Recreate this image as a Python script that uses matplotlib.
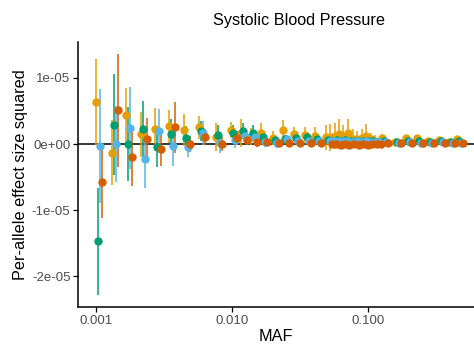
import matplotlib
matplotlib.use("Agg")
import matplotlib.pyplot as plt
import numpy as np

plt.rcParams["font.family"] = ["Liberation Sans", "DejaVu Sans"]

# MAF bin centres
maf = [0.00105, 0.00137, 0.00175, 0.00224, 0.00286, 0.00362, 0.00471, 0.00602,
       0.00802, 0.01043, 0.01225, 0.01452, 0.01734, 0.02107, 0.02495, 0.03006,
       0.03622, 0.04325, 0.05212,
       0.0553, 0.0602, 0.0644, 0.0689, 0.0750, 0.0816, 0.0874, 0.0950, 0.1017,
       0.1107, 0.1185,
       0.1334, 0.1663, 0.2002, 0.2411, 0.2904, 0.3499, 0.4148, 0.4748]

# estimates and standard errors, in units of 1e-05
orange_est = [0.63, -0.13, 0.44, 0.15, 0.22, 0.27, 0.21, 0.25, 0.11, 0.21, 0.16, 0.11, 0.16,
              0.09, 0.21, 0.15, 0.14, 0.12, 0.10,
              0.10, 0.12, 0.15, 0.12, 0.16, 0.08, 0.07, 0.09, 0.12, 0.07, 0.05,
              0.09, 0.03, 0.09, 0.09, 0.04, 0.06, 0.03, 0.07]
orange_se = [0.65, 0.49, 0.40, 0.34, 0.32, 0.25, 0.24, 0.17, 0.21, 0.12, 0.21, 0.13, 0.15,
             0.10, 0.15, 0.11, 0.11, 0.13, 0.19,
             0.20, 0.20, 0.22, 0.16, 0.22, 0.14, 0.13, 0.14, 0.18, 0.10, 0.08,
             0.06, 0.04, 0.05, 0.05, 0.04, 0.04, 0.04, 0.04]
green_est = [-1.47, 0.29, 0.00, 0.22, -0.05, 0.15, 0.09, 0.19, 0.14, 0.16, 0.19, 0.16, 0.11,
             0.06, 0.07, 0.09, 0.10, 0.07, 0.06,
             0.05, 0.06, 0.05, 0.06, 0.05, 0.04, 0.05, 0.04, 0.05, 0.04, 0.03,
             0.05, 0.03, 0.05, 0.04, 0.03, 0.04, 0.03, 0.04]
green_se = [0.81, 0.76, 0.56, 0.43, 0.30, 0.22, 0.18, 0.15, 0.14, 0.13, 0.12, 0.12, 0.10,
            0.08, 0.07, 0.07, 0.06, 0.06, 0.06,
            0.05, 0.05, 0.05, 0.04, 0.04, 0.04, 0.04, 0.04, 0.03, 0.03, 0.03,
            0.03, 0.03, 0.03, 0.03, 0.03, 0.03, 0.03, 0.03]
blue_est = [-0.03, 0.00, 0.24, -0.22, 0.20, -0.03, -0.05, 0.17, 0.01, 0.06, 0.12, 0.11, 0.03,
            0.01, 0.07, 0.05, 0.05, 0.05, 0.04,
            0.04, 0.05, 0.04, 0.04, 0.03, 0.04, 0.03, 0.04, 0.03, 0.03, 0.03,
            0.03, 0.02, 0.03, 0.02, 0.02, 0.03, 0.02, 0.02]
blue_se = [0.86, 0.57, 0.62, 0.44, 0.33, 0.30, 0.15, 0.18, 0.14, 0.12, 0.10, 0.09, 0.08,
           0.07, 0.06, 0.06, 0.05, 0.05, 0.05,
           0.04, 0.04, 0.04, 0.04, 0.04, 0.03, 0.03, 0.03, 0.03, 0.03, 0.03,
           0.03, 0.02, 0.02, 0.02, 0.02, 0.02, 0.02, 0.02]
red_est = [-0.57, 0.51, -0.19, 0.07, -0.08, 0.25, 0.00, 0.11, 0.00, 0.09, 0.06, 0.03, 0.03,
           0.02, 0.01, 0.01, 0.01, 0.01, 0.00,
           0.00, -0.01, 0.00, -0.01, 0.00, -0.01, 0.00, -0.01, 0.00, 0.00, 0.00,
           0.02, 0.02, 0.01, 0.02, 0.01, 0.02, 0.01, 0.02]
red_se = [0.55, 0.85, 0.45, 0.33, 0.25, 0.38, 0.12, 0.12, 0.10, 0.10, 0.08, 0.07, 0.06,
          0.05, 0.05, 0.05, 0.04, 0.04, 0.04,
          0.03, 0.03, 0.03, 0.03, 0.03, 0.03, 0.03, 0.03, 0.03, 0.03, 0.03,
          0.02, 0.02, 0.02, 0.02, 0.02, 0.02, 0.02, 0.02]

groups = [
    ("#E69F00", orange_est, orange_se, -0.022),
    ("#009E73", green_est, green_se, -0.0074),
    ("#56B4E9", blue_est, blue_se, 0.0074),
    ("#D55E00", red_est, red_se, 0.022),
]

fig = plt.figure(figsize=(4.74, 3.5), dpi=100)
ax = fig.add_axes([0.1646, 0.123, 0.8354, 0.757])

x = np.array(maf)
for color, est, se, dodge in groups:
    ax.errorbar(x * 10 ** dodge, np.array(est) * 1e-5, yerr=np.array(se) * 1e-5,
                fmt="o", color=color, ms=5, elinewidth=1.1, capsize=0, zorder=3)

ax.axhline(0, color="black", lw=1.1, zorder=2)

ax.set_xscale("log")
ax.set_xlim(0.000738, 0.603)
ax.set_ylim(-2.46e-5, 1.54e-5)
ax.set_xticks([0.001, 0.01, 0.1])
ax.set_xticklabels(["0.001", "0.010", "0.100"])
ax.xaxis.set_minor_locator(matplotlib.ticker.NullLocator())
ax.set_yticks([1e-5, 0, -1e-5, -2e-5])
ax.set_yticklabels(["1e-05", "0e+00", "-1e-05", "-2e-05"])

for side in ["top", "right"]:
    ax.spines[side].set_visible(False)
for side in ["left", "bottom"]:
    ax.spines[side].set_linewidth(1.1)
ax.tick_params(axis="both", length=3.5, width=0.9, labelsize=9.5, labelcolor="#4D4D4D", pad=2)

ax.set_xlabel("MAF", fontsize=11.7, labelpad=2)
ax.set_ylabel("Per-allele effect size squared", fontsize=11.7, labelpad=3)
fig.text(0.631, 0.942, "Systolic Blood Pressure", ha="center", va="center", fontsize=11.7)

fig.savefig("out.png", dpi=100)
